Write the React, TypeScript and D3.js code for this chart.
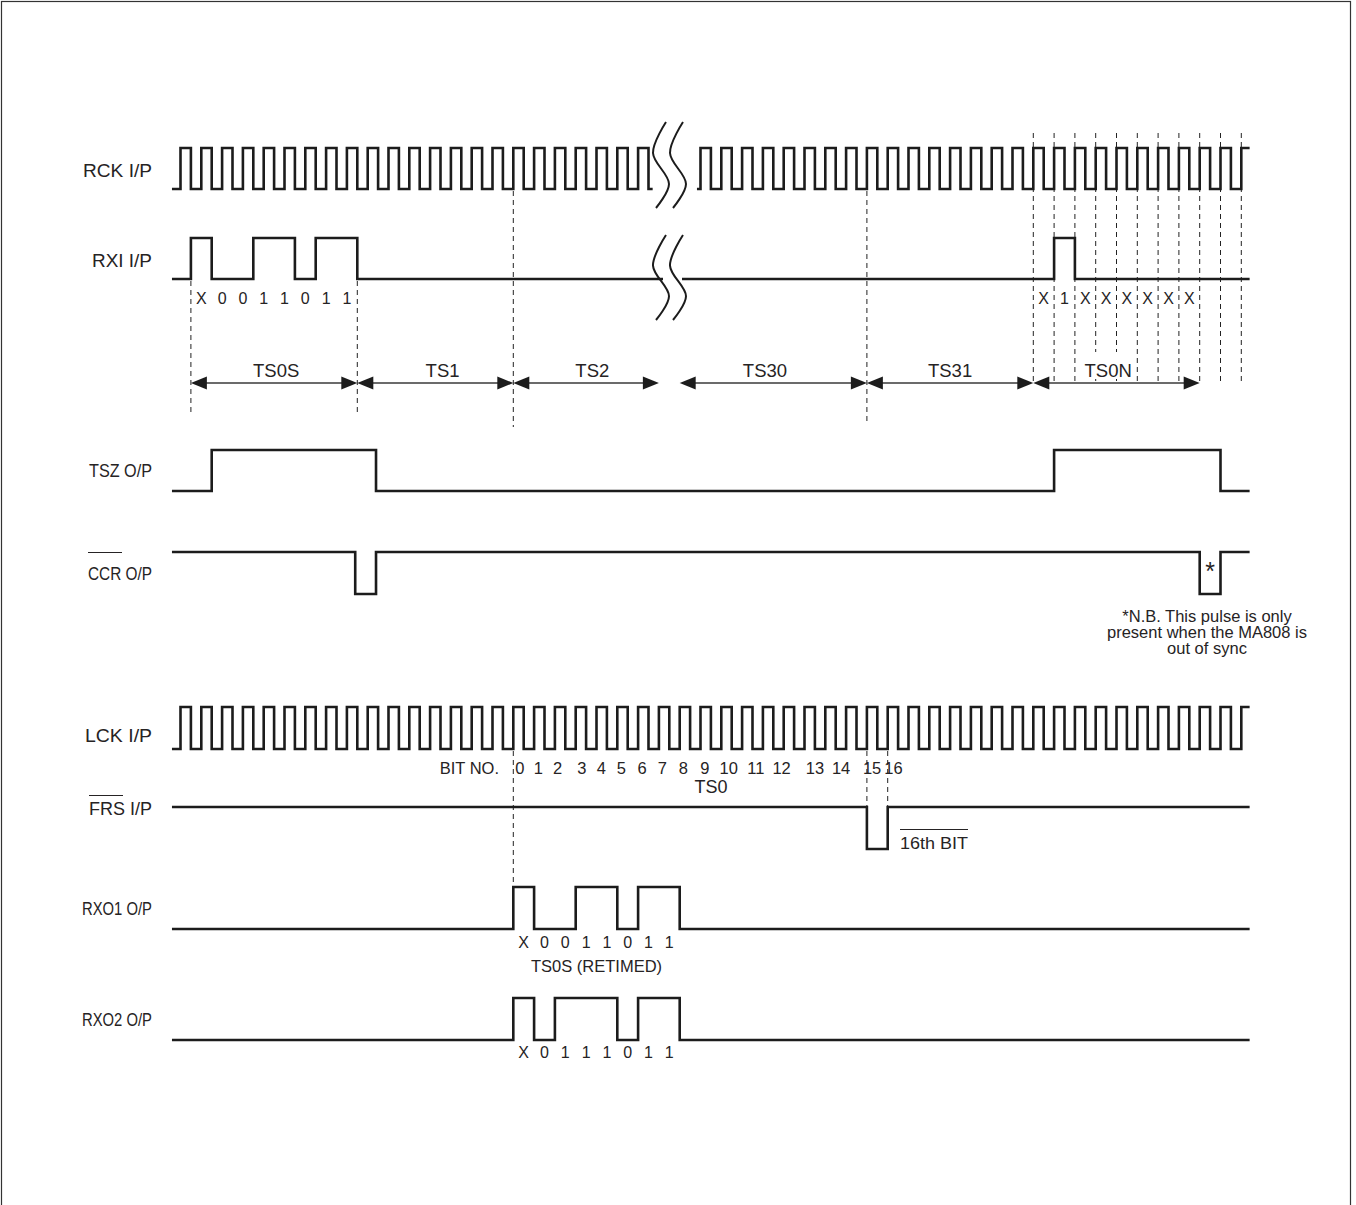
import React from 'react';
import * as d3 from 'd3';

// signal names
const signalLabels = ['RCK I/P', 'RXI I/P', 'TSZ O/P', 'CCR O/P', 'LCK I/P', 'FRS I/P', 'RXO1 O/P', 'RXO2 O/P'];

// received bits (one per clock period)
const rxiBitsLeft = ['X', '0', '0', '1', '1', '0', '1', '1'];
const rxiLevelsLeft = [1, 0, 0, 1, 1, 0, 1, 1];
const rxiBitsRight = ['X', '1', 'X', 'X', 'X', 'X', 'X', 'X'];
const rxiLevelsRight = [0, 1, 0, 0, 0, 0, 0, 0];
const rxo1Bits = ['X', '0', '0', '1', '1', '0', '1', '1'];
const rxo1Levels = [1, 0, 0, 1, 1, 0, 1, 1];
const rxo2Bits = ['X', '0', '1', '1', '1', '0', '1', '1'];
const rxo2Levels = [1, 0, 1, 1, 1, 0, 1, 1];

// timeslots, in clock periods
const slotNames = ['TS0S', 'TS1', 'TS2', 'TS30', 'TS31', 'TS0N'];
const slotStart = [0.5, 8.5, 16, 24, 33, 41];
const slotEnd = [8.5, 16, 23, 33, 41, 49];
const slotLabelAt = [4.6, 12.6, 19.8, 28.1, 37, 44.6];

// edge times (clock periods)
const tszEdges = [1.5, 9.4, 42, 50]; // idles low
const ccrEdges = [8.4, 9.4, 49, 50]; // idles high
const frsEdges = [33, 34]; // idles high

const bitNumbers = ['0', '1', '2', '3', '4', '5', '6', '7', '8', '9', '10', '11', '12', '13', '14', '15', '16'];
const bitNumberAt = [16.32, 17.2, 18.13, 19.3, 20.23, 21.2, 22.19, 23.16, 24.18, 25.21, 26.36, 27.66, 28.9, 30.5, 31.76, 33.25, 34.28];

const noteLines = ['*N.B. This pulse is only', 'present when the MA808 is', 'out of sync'];

// layout
const FONT = '"Liberation Sans", Arial, Helvetica, sans-serif';
const INK = '#1c1c1c';
const TEXT = '#262324';
const LABEL_RIGHT = 152;
const labelWidths = [69, 60, 63, 64, 67, 63, 70, 70];
const rows = [
  { hi: 148, lo: 189, base: 177 },
  { hi: 238, lo: 279, base: 267 },
  { hi: 450, lo: 491, base: 477 },
  { hi: 552, lo: 594, base: 580 },
  { hi: 707, lo: 749, base: 742 },
  { hi: 807, lo: 849, base: 815 },
  { hi: 887, lo: 929, base: 915 },
  { hi: 998, lo: 1040, base: 1026 },
];
const T0 = -0.41;
const T1 = 51.4;

type Pt = [number, number];

const x = d3.scaleLinear().domain([0, 51]).range([180.5, 1241.3]);

function edgesToSteps(t0: number, t1: number, level0: number, edges: number[]): Pt[] {
  const pts: Pt[] = [[t0, level0]];
  let lv = level0;
  edges.forEach((e) => {
    lv = 1 - lv;
    pts.push([e, lv]);
  });
  pts.push([t1, lv]);
  return pts;
}

function bitsToSteps(t0: number, t1: number, start: number, levels: number[], idle = 0): Pt[] {
  const pts: Pt[] = [[t0, idle]];
  levels.forEach((l, i) => pts.push([start + i, l]));
  pts.push([start + levels.length, idle]);
  pts.push([t1, idle]);
  return pts;
}

function clockSteps(t0: number, t1: number, firstRise: number, lastRise: number): Pt[] {
  const pts: Pt[] = [[t0, 0]];
  d3.range(firstRise, lastRise + 1).forEach((k) => {
    pts.push([k, 1]);
    if (k + 0.5 < t1) pts.push([k + 0.5, 0]);
  });
  const last = pts[pts.length - 1];
  pts.push([t1, last[1]]);
  return pts;
}

function Wave({ cx, y0, y1 }: { cx: number; y0: number; y1: number }) {
  const h = y1 - y0;
  const pts: Pt[] = [
    [cx + 5, y0],
    [cx - 8, y0 + h * 0.36],
    [cx + 8, y0 + h * 0.72],
    [cx - 5, y1],
  ];
  const path = d3.line<Pt>().x((d) => d[0]).y((d) => d[1]).curve(d3.curveCatmullRom.alpha(0.5))(pts);
  return <path d={path || ''} fill="none" stroke={INK} strokeWidth={2} />;
}

const App = () => {
  const W = 1356;
  const H = 1205;

  const yScales = rows.map((r) => d3.scaleLinear().domain([0, 1]).range([r.lo, r.hi]));
  const line = (i: number) =>
    d3.line<Pt>().x((d) => x(d[0])).y((d) => yScales[i](d[1])).curve(d3.curveStepAfter);

  const tBreakL = x.invert(663);
  const tBreakR = x.invert(682);

  const traces: { row: number; pts: Pt[] }[] = [
    { row: 0, pts: clockSteps(T0, 22.7, 0, 22) },
    { row: 0, pts: clockSteps(24.83, T1, 25, 51) },
    { row: 1, pts: bitsToSteps(T0, tBreakL, 0.5, rxiLevelsLeft) },
    { row: 1, pts: bitsToSteps(tBreakR, T1, 41, rxiLevelsRight) },
    { row: 2, pts: edgesToSteps(T0, T1, 0, tszEdges) },
    { row: 3, pts: edgesToSteps(T0, T1, 1, ccrEdges) },
    { row: 4, pts: clockSteps(T0, T1, 0, 51) },
    { row: 5, pts: edgesToSteps(T0, T1, 1, frsEdges) },
    { row: 6, pts: bitsToSteps(T0, T1, 16, rxo1Levels) },
    { row: 7, pts: bitsToSteps(T0, T1, 16, rxo2Levels) },
  ];

  const dashes: { t: number; y1: number; y2: number }[] = [
    { t: 0.5, y1: 281, y2: 412 },
    { t: 8.5, y1: 281, y2: 412 },
    { t: 16, y1: 191, y2: 427 },
    { t: 33, y1: 191, y2: 425 },
    ...d3.range(41, 52).map((t) => ({ t, y1: 133, y2: 384 })),
    { t: 16, y1: 751, y2: 886 },
    { t: 33, y1: 751, y2: 806 },
    { t: 34, y1: 751, y2: 806 },
  ];

  const arrowY = 383;
  const headL = 16;
  const headH = 6.5;

  return (
    <div style={{ position: 'absolute', left: 0, top: 0 }}>
      <svg width={W} height={H} style={{ display: 'block', background: '#fff' }} fontFamily={FONT}>
        <rect x={1.5} y={1.5} width={1349} height={1230} fill="none" stroke="#333" strokeWidth={1.2} />

        {/* dashed guides */}
        {dashes.map((d, i) => (
          <line key={'d' + i} x1={x(d.t)} x2={x(d.t)} y1={d.y1} y2={d.y2} stroke="#222" strokeWidth={1} strokeDasharray="5,4" />
        ))}

        {/* timeslot arrows */}
        {slotNames.map((name, i) => {
          const xs = x(slotStart[i]);
          const xe = x(slotEnd[i]);
          const lx = x(slotLabelAt[i]);
          return (
            <g key={name}>
              <line x1={xs + headL - 1} x2={xe - headL + 1} y1={arrowY} y2={arrowY} stroke="#3a3a3a" strokeWidth={1.6} />
              <polygon points={`${xs},${arrowY} ${xs + headL},${arrowY - headH} ${xs + headL},${arrowY + headH}`} fill="#1c1c1c" />
              <polygon points={`${xe},${arrowY} ${xe - headL},${arrowY - headH} ${xe - headL},${arrowY + headH}`} fill="#1c1c1c" />
              {name === 'TS0N' && <rect x={lx - 25} y={352} width={50} height={27} fill="#fff" />}
              <text x={lx} y={377} textAnchor="middle" fontSize={18.5} fill={TEXT}>{name}</text>
            </g>
          );
        })}

        {/* traces */}
        {traces.map((tr, i) => (
          <path key={'t' + i} d={line(tr.row)(tr.pts) || ''} fill="none" stroke={INK} strokeWidth={2.6} strokeLinejoin="miter" />
        ))}

        {/* break marks */}
        <Wave cx={661} y0={122} y1={208} />
        <Wave cx={678} y0={122} y1={208} />
        <Wave cx={661} y0={235} y1={320} />
        <Wave cx={678} y0={235} y1={320} />

        {/* signal labels */}
        {signalLabels.map((s, i) => (
          <text
            key={s}
            x={LABEL_RIGHT - labelWidths[i]}
            y={rows[i].base}
            fontSize={18.5}
            fill={TEXT}
            textLength={labelWidths[i]}
            lengthAdjust="spacingAndGlyphs"
          >
            {s}
          </text>
        ))}
        {/* active-low bars */}
        <line x1={88} x2={122} y1={552.5} y2={552.5} stroke={TEXT} strokeWidth={1.2} />
        <line x1={89} x2={123} y1={795.5} y2={795.5} stroke={TEXT} strokeWidth={1.2} />

        {/* bit values */}
        {rxiBitsLeft.map((b, i) => (
          <text key={'rl' + i} x={x(1 + i)} y={304} textAnchor="middle" fontSize={16} fill={TEXT}>{b}</text>
        ))}
        {rxiBitsRight.map((b, i) => (
          <text key={'rr' + i} x={x(41.5 + i)} y={304} textAnchor="middle" fontSize={16} fill={TEXT}>{b}</text>
        ))}
        {rxo1Bits.map((b, i) => (
          <text key={'o1' + i} x={x(16.5 + i)} y={948} textAnchor="middle" fontSize={16} fill={TEXT}>{b}</text>
        ))}
        <text x={x(20)} y={972} textAnchor="middle" fontSize={16.5} fill={TEXT}>TS0S (RETIMED)</text>
        {rxo2Bits.map((b, i) => (
          <text key={'o2' + i} x={x(16.5 + i)} y={1058} textAnchor="middle" fontSize={16} fill={TEXT}>{b}</text>
        ))}

        {/* bit numbers on LCK */}
        <text x={499} y={774} textAnchor="end" fontSize={16.5} fill={TEXT}>BIT NO.</text>
        {bitNumbers.map((b, i) => (
          <text key={'bn' + i} x={x(bitNumberAt[i])} y={774} textAnchor="middle" fontSize={16.5} fill={TEXT}>{b}</text>
        ))}
        <text x={x(25.5)} y={793} textAnchor="middle" fontSize={18} fill={TEXT}>TS0</text>

        <text x={934} y={849} textAnchor="middle" fontSize={16.5} fill={TEXT} textLength={68} lengthAdjust="spacingAndGlyphs">16th BIT</text>
        <line x1={900} x2={968} y1={829.5} y2={829.5} stroke={TEXT} strokeWidth={1.2} />

        {/* CCR note */}
        <text x={x(49.5)} y={580} textAnchor="middle" fontSize={25} fill={TEXT}>*</text>
        {noteLines.map((l, i) => (
          <text key={'n' + i} x={1207} y={622 + i * 16} textAnchor="middle" fontSize={16.5} fill={TEXT}>{l}</text>
        ))}
      </svg>
    </div>
  );
};

export default App;
